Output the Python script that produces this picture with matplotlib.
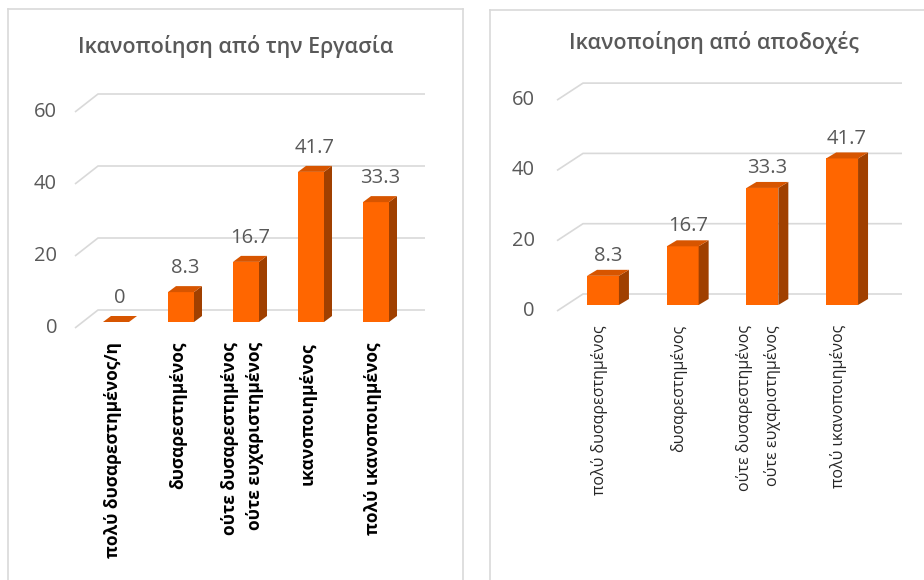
import matplotlib
matplotlib.use("Agg")
import matplotlib.pyplot as plt
from matplotlib.patches import Polygon

plt.rcParams['font.family'] = ['Open Sans', 'DejaVu Sans']

# Δεδομένα
work_title = "Ικανοποίηση από την Εργασία"
work_labels = ["πολύ δυσαρεστημένος/η", "δυσαρεστημένος",
               "ούτε δυσαρεστημένος\nούτε ευχαριστημένος",
               "ικανοποιημένος", "πολύ ικανοποιημένος"]
work_values = [0, 8.3, 16.7, 41.7, 33.3]

pay_title = "Ικανοποίηση από αποδοχές"
pay_labels = ["πολύ δυσαρεστημένος", "δυσαρεστημένος",
              "ούτε δυσαρεστημένος\nούτε ευχαριστημένος",
              "πολύ ικανοποιημένος"]
pay_values = [8.3, 16.7, 33.3, 41.7]

y_ticks = [0, 20, 40, 60]

# Χρώματα
front_col = "#ff6600"
top_col = "#d75500"
side_col = "#a04000"
grid_col = "#d9d9d9"
text_col = "#595959"

W, H = 924, 580
fig = plt.figure(figsize=(W / 100, H / 100), dpi=100)


def panel(rect_px, x0_px, step_px, base_px, px_per_unit, labels, values, title,
          depth_px, floor_px, grid_px, tick_right_px, label_top_px, val_off,
          lab_weight, lab_color, lab_size, lab_spacing, title_y_px):
    # rect_px = (left, top, right, bottom) σε pixel της εικόνας
    l, t, r, b = rect_px
    ax = fig.add_axes([l / W, 1 - b / H, (r - l) / W, (b - t) / H])
    ax.set_xlim((l - x0_px) / step_px, (r - x0_px) / step_px)
    ax.set_ylim((base_px - b) / px_per_unit, (base_px - t) / px_per_unit)
    ax.set_xticks([])
    ax.set_yticks([])
    for s in ax.spines.values():
        s.set_color(grid_col)
        s.set_linewidth(1.2)

    bw = 0.40
    dx = depth_px[0] / step_px
    dy = depth_px[1] / px_per_unit
    fy_front = -floor_px[0] / px_per_unit   # μπροστινή άκρη δαπέδου
    fy_back = floor_px[1] / px_per_unit     # πίσω τοίχος
    gx0 = (grid_px[0] - x0_px) / step_px
    gx1 = (grid_px[1] - x0_px) / step_px
    gx2 = (grid_px[2] - x0_px) / step_px

    # Πλέγμα
    for tk in y_ticks:
        ax.plot([gx0, gx1, gx2], [tk + fy_front, tk + fy_back, tk + fy_back],
                color=grid_col, lw=1.2, zorder=1, solid_capstyle='butt')
        ax.text((tick_right_px - x0_px) / step_px, tk + fy_front, str(tk),
                ha='right', va='center', fontsize=14.5, color=text_col)

    xs = list(range(len(values)))
    ax.bar(xs, values, width=bw, color=front_col, zorder=3)
    for x, v in zip(xs, values):
        xl, xr = x - bw / 2, x + bw / 2
        ax.add_patch(Polygon([(xr, 0), (xr + dx, dy), (xr + dx, v + dy), (xr, v)],
                             closed=True, fc=side_col, ec='none', zorder=3))
        ax.add_patch(Polygon([(xl, v), (xl + dx, v + dy), (xr + dx, v + dy), (xr, v)],
                             closed=True, fc=top_col, ec='none', zorder=3))
        ax.annotate(f"{v:g}", (x + dx / 2, v + dy), xytext=(0, val_off),
                    textcoords='offset points', ha='center', va='center',
                    fontsize=14.5, color=text_col, zorder=4)
        ax.text(x - 0.05, (base_px - label_top_px) / px_per_unit, labels[x],
                rotation=90, ha='center', va='top', multialignment='right',
                fontsize=lab_size, fontweight=lab_weight, color=lab_color,
                linespacing=lab_spacing)

    ax.text(0.5, (b - title_y_px) / (b - t), title, transform=ax.transAxes,
            ha='center', va='center', fontsize=15.5, fontweight='semibold',
            color=text_col)
    return ax


panel((8, 9, 463, 590), 116, 65, 322, 3.6, work_labels, work_values, work_title,
      (8, 6), (6, 12), (75, 98, 425), 57, 342, 13,
      'bold', 'black', 12.5, 1.5, 47)

panel((490, 10, 938, 590), 603, 79.7, 305, 3.515, pay_labels, pay_values, pay_title,
      (10, 6), (6, 11), (557, 583, 902), 535, 325, 10,
      'normal', '#262626', 11.5, 1.9, 42)

fig.savefig("out.png", dpi=100, facecolor='white')
